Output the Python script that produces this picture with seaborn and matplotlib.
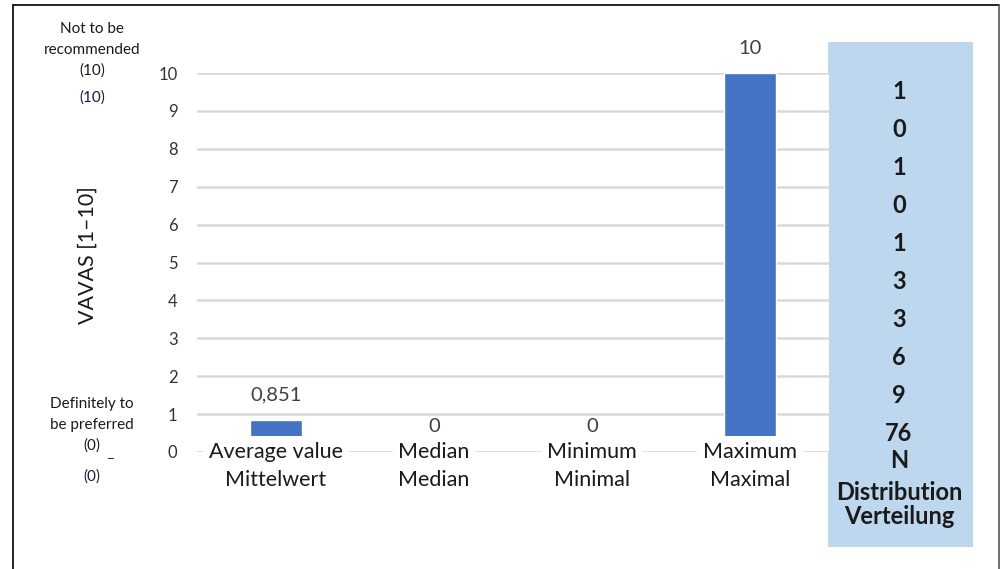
import matplotlib
matplotlib.use("Agg")
import matplotlib.pyplot as plt
import matplotlib.transforms as mtransforms
from matplotlib.lines import Line2D
from matplotlib.patches import Rectangle
import pandas as pd
import seaborn as sns

# data
categories = ["Average value\nMittelwert", "Median\nMedian", "Minimum\nMinimal", "Maximum\nMaximal"]
values = [0.851, 0, 0, 10]
value_labels = ["0,851", "0", "0", "10"]
dist_counts = [1, 0, 1, 0, 1, 3, 3, 6, 9, 76]   # bands from 10 down to 1
dist_centers = [9.5, 8.5, 7.5, 6.5, 5.5, 4.5, 3.5, 2.5, 1.5, 0.5]

sns.set_style("white")
plt.rcParams['font.family'] = ['Lato', 'DejaVu Sans']

df = pd.DataFrame({"cat": categories, "val": values})

fig = plt.figure(figsize=(10.04, 5.69), dpi=100)
ax = fig.add_axes([197 / 1004, (569 - 452) / 569, (829 - 197) / 1004, (452 - 73) / 569])

sns.barplot(data=df, x="cat", y="val", color="#4472C4", saturation=1, width=0.33, ax=ax, zorder=3)

ax.set_ylim(0, 10)
ax.set_yticks(range(0, 11))
ax.yaxis.grid(True, color="#D9D9D9", linewidth=1.8)
ax.set_axisbelow(True)
for s in ax.spines.values():
    s.set_visible(False)
ax.tick_params(axis="y", length=0, pad=14, labelsize=12, labelcolor="#333333")
ax.set_xticks([])
ax.set_xlabel("")
ax.set_ylabel("")

# value labels
for i, (v, lab) in enumerate(zip(values, value_labels)):
    ax.annotate(lab, (i, v), xytext=(0, 18), textcoords="offset points",
                ha="center", va="center", fontsize=14.5, color="#404040", clip_on=False)

# category labels sitting on the zero line (white box hides the bar foot)
lab_tr = mtransforms.offset_copy(ax.transData, fig=fig, y=-14, units="dots")
for i, c in enumerate(categories):
    ax.text(i, 0, c, ha="center", va="center", fontsize=15.5, color="#1a1a1a",
            linespacing=1.55, transform=lab_tr,
            bbox=dict(facecolor="white", edgecolor="none", pad=4), zorder=4, clip_on=False)

# y axis title
fig.text(88 / 1004, 1 - 255 / 569, "VAVAS [1–10]", rotation=90, ha="center", va="center",
         fontsize=15.5, color="#1a1a1a")

# left-side scale annotations
fig.text(92 / 1004, 1 - 50 / 569, "Not to be\nrecommended\n(10)", ha="center", va="center",
         fontsize=11, color="#1a1a1a", linespacing=1.6)
fig.text(92 / 1004, 1 - 98 / 569, "(10)", ha="center", va="center", fontsize=11, color="#1a1a40")
fig.text(92 / 1004, 1 - 425 / 569, "Definitely to\nbe preferred\n(0)", ha="center", va="center",
         fontsize=11, color="#1a1a1a", linespacing=1.6)
fig.text(92 / 1004, 1 - 477 / 569, "(0)", ha="center", va="center", fontsize=11, color="#1a1a40")
# small stray dash next to "(0)"
fig.add_artist(Line2D([108 / 1004, 113 / 1004], [1 - 458 / 569, 1 - 458 / 569],
                      transform=fig.transFigure, color="#333333", lw=0.8))

# distribution panel
fig.add_artist(Rectangle((828 / 1004, 1 - 547 / 569), (973 - 828) / 1004, (547 - 42) / 569,
                         transform=fig.transFigure, facecolor="#BDD7EE", edgecolor="none", zorder=0))
blend = mtransforms.blended_transform_factory(fig.transFigure, ax.transData)
for n, yc in zip(dist_counts, dist_centers):
    ax.text(899 / 1004, yc, str(n), transform=blend, ha="center", va="center",
            fontsize=17, fontweight="bold", color="#1a1a1a", clip_on=False)
for txt, ypx in [("N", 461), ("Distribution", 493), ("Verteilung", 516)]:
    fig.text(899 / 1004, 1 - ypx / 569, txt, ha="center", va="center", fontsize=17,
             fontweight="bold", color="#1a1a1a")

# outer frame
fig.add_artist(Line2D([13 / 1004, 13 / 1004], [0, 1 - 5 / 569], transform=fig.transFigure, color="black", lw=1.2))
fig.add_artist(Line2D([13 / 1004, 999 / 1004], [1 - 5 / 569, 1 - 5 / 569], transform=fig.transFigure, color="black", lw=1.2))
fig.add_artist(Line2D([999 / 1004, 999 / 1004], [0, 1 - 5 / 569], transform=fig.transFigure, color="#555555", lw=1.2))

fig.savefig("out.png", dpi=100)
